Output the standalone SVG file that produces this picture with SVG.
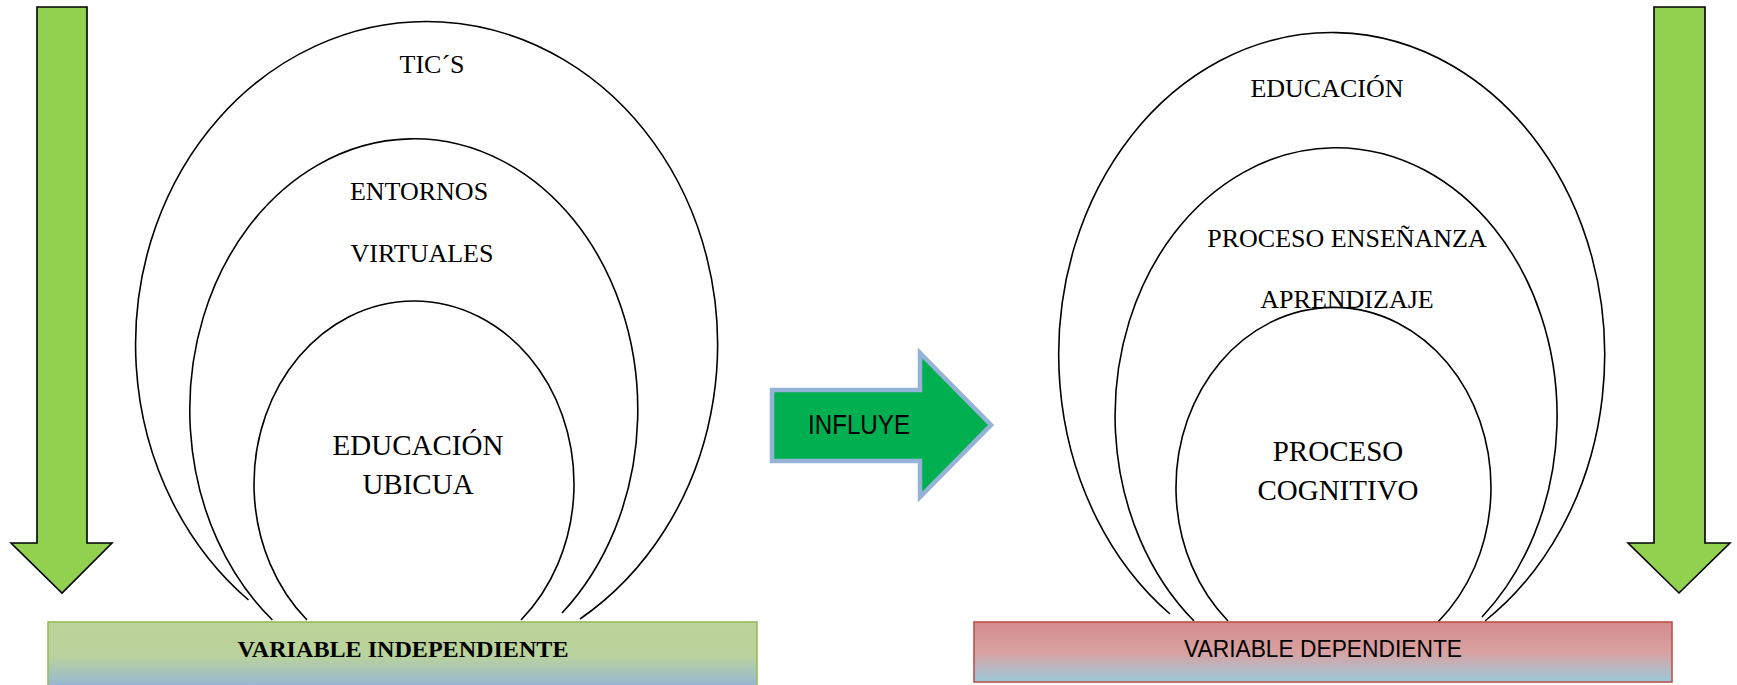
<svg xmlns="http://www.w3.org/2000/svg" width="1737" height="685" viewBox="0 0 1737 685">
<defs>
<linearGradient id="gInd" x1="0" y1="0" x2="0" y2="1">
<stop offset="0" stop-color="#BCD399"/>
<stop offset="0.5" stop-color="#BAD29C"/>
<stop offset="1" stop-color="#93B4D8"/>
</linearGradient>
<linearGradient id="gDep" x1="0" y1="0" x2="0" y2="1">
<stop offset="0" stop-color="#D38C8C"/>
<stop offset="0.5" stop-color="#D9A1A1"/>
<stop offset="1" stop-color="#9CCADA"/>
</linearGradient>
<style>
.arc{fill:none;stroke:#000;stroke-width:1.6}
.down{fill:#92D050;stroke:#000;stroke-width:1.6;stroke-linejoin:miter}
.lbl{font-family:"Liberation Serif","Times New Roman",serif;font-size:26px;fill:#000;text-anchor:middle}
.lblb{font-family:"Liberation Serif","Times New Roman",serif;font-size:29px;fill:#000;text-anchor:middle}
.sans{font-family:"Liberation Sans",Arial,sans-serif;fill:#000;text-anchor:middle}
</style>
</defs>
<rect width="1737" height="685" fill="#fff"/>

<g id="arrow-left">
<path class="down" d="M37,7 H87 V543 H112 L62,593 L11,543 H37 Z"/>
</g>
<g id="arrow-right">
<path class="down" d="M1654,7 H1705 V543 H1730 L1679,593 L1628,543 H1654 Z"/>
</g>

<g id="tics">
<path class="arc" d="M248.5,600 A291,323 0 1 1 580,619"/>
<text class="lbl" x="432" y="73">TIC´S</text>
</g>
<g id="entornos">
<path class="arc" d="M272.4,620 A224,271 0 1 1 562,613"/>
<text class="lbl" x="419" y="200">ENTORNOS</text>
<text class="lbl" x="422" y="262">VIRTUALES</text>
</g>
<g id="educacion-ubicua">
<path class="arc" d="M307,620 A160,183 0 1 1 521,620"/>
<text class="lblb" x="418" y="455">EDUCACIÓN</text>
<text class="lblb" x="418" y="494">UBICUA</text>
</g>

<g id="educacion">
<path class="arc" d="M1170,614 A273,322 0 1 1 1485,621"/>
<text class="lbl" x="1327" y="97">EDUCACIÓN</text>
</g>
<g id="proceso-ea">
<path class="arc" d="M1194,621 A221,268 0 1 1 1482,617"/>
<text class="lbl" x="1347" y="247">PROCESO ENSEÑANZA</text>
<text class="lbl" x="1347" y="308">APRENDIZAJE</text>
</g>
<g id="proceso-cognitivo">
<path class="arc" d="M1228,621 A157.5,180 0 1 1 1438,622"/>
<text class="lblb" x="1338" y="461">PROCESO</text>
<text class="lblb" x="1338" y="500">COGNITIVO</text>
</g>

<g id="influye">
<path d="M772,390 H920 V353 L991,425 L920,497 V461 H772 Z" fill="#00B050" stroke="#95B3D7" stroke-width="4.5" stroke-linejoin="miter"/>
<text class="sans" x="859" y="434" font-size="27" textLength="102" lengthAdjust="spacingAndGlyphs">INFLUYE</text>
</g>

<g id="var-independiente">
<rect x="48" y="622" width="709" height="67" fill="url(#gInd)" stroke="#9BBB59" stroke-width="1.6"/>
<text x="403" y="657" font-family="'Liberation Serif','Times New Roman',serif" font-weight="bold" font-size="24" text-anchor="middle" textLength="331" lengthAdjust="spacingAndGlyphs">VARIABLE INDEPENDIENTE</text>
</g>
<g id="var-dependiente">
<rect x="974" y="622" width="698" height="60" fill="url(#gDep)" stroke="#C0504D" stroke-width="1.6"/>
<text class="sans" x="1323" y="657" font-size="24" textLength="278" lengthAdjust="spacingAndGlyphs">VARIABLE DEPENDIENTE</text>
</g>
</svg>
